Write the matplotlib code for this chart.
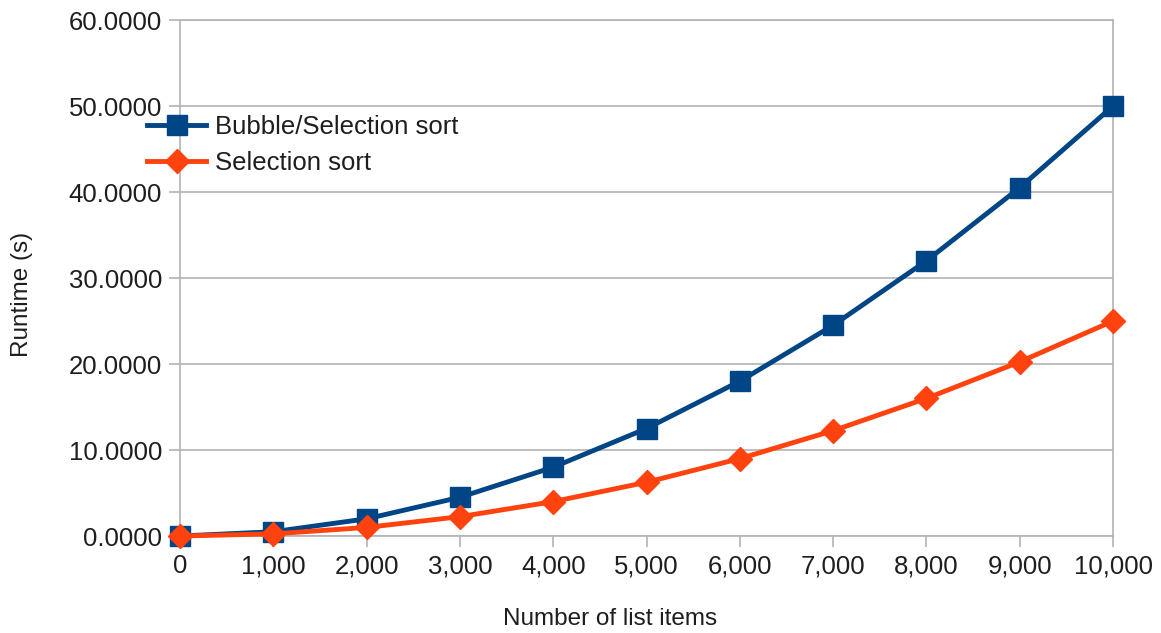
import matplotlib
matplotlib.use("Agg")
import matplotlib.pyplot as plt
from matplotlib.ticker import FuncFormatter

plt.rcParams["font.family"] = ["Liberation Sans", "DejaVu Sans"]

list_items = [0, 1000, 2000, 3000, 4000, 5000, 6000, 7000, 8000, 9000, 10000]
bubble_runtime = [0.0, 0.5, 2.0, 4.5, 8.0, 12.5, 18.0, 24.5, 32.0, 40.5, 50.0]
selection_runtime = [0.0, 0.25, 1.0, 2.25, 4.0, 6.25, 9.0, 12.25, 16.0, 20.25, 25.0]

grid_col = "#b3b3b3"
text_col = "#1e1e1e"

fig = plt.figure(figsize=(11.61, 6.33), dpi=100)
ax = fig.add_axes([0.155, 0.1532, 0.8037, 0.8152])

ax.plot(list_items, bubble_runtime, color="#004586", lw=3.5, marker="s",
        ms=14, label="Bubble/Selection sort", clip_on=False, zorder=3)
ax.plot(list_items, selection_runtime, color="#ff420e", lw=3.5, marker="D",
        ms=12, label="Selection sort", clip_on=False, zorder=4)

ax.set_xlim(0, 10000)
ax.set_ylim(0, 60)
ax.set_xticks(list_items)
ax.set_yticks(range(0, 61, 10))
ax.xaxis.set_major_formatter(FuncFormatter(lambda v, p: f"{int(v):,}"))
ax.yaxis.set_major_formatter(FuncFormatter(lambda v, p: f"{v:.4f}"))
ax.grid(axis="y", color=grid_col, lw=1.2)
ax.set_axisbelow(True)
for s in ax.spines.values():
    s.set_color(grid_col)
    s.set_linewidth(1.2)
ax.tick_params(colors=grid_col, labelcolor=text_col, labelsize=18.5, length=8,
               width=1.2, pad=5)

# the titles are not centred on the plot area in the original
ax.set_xlabel("Number of list items", fontsize=17.5, color=text_col)
ax.set_ylabel("Runtime (s)", fontsize=17.5, color=text_col)
ax.xaxis.set_label_coords(0.461, -0.139)
ax.yaxis.set_label_coords(-0.158, 0.469)

ax.legend(loc="upper left", bbox_to_anchor=(-0.046, 0.835), frameon=False,
          fontsize=18.5, handlelength=2.3, handletextpad=0.35,
          labelspacing=0.45, labelcolor=text_col, borderaxespad=0)

fig.savefig("out.png", dpi=100)
